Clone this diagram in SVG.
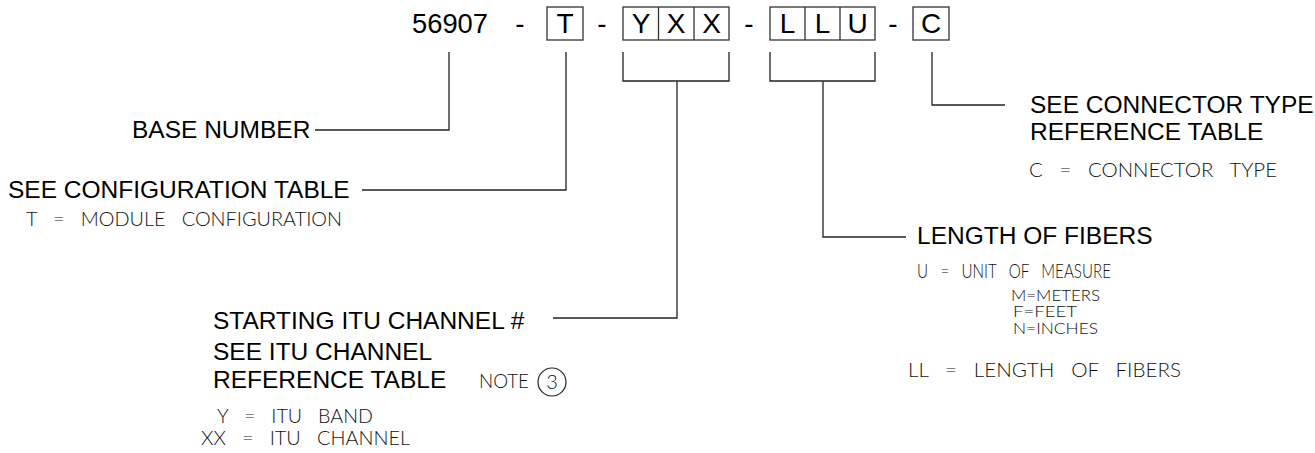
<svg xmlns="http://www.w3.org/2000/svg" width="1315" height="453" viewBox="0 0 1315 453">
<style>
.big{font-family:"Liberation Sans",Arial,sans-serif;font-size:28px;fill:#000}
.lbl{font-family:"Liberation Sans",Arial,sans-serif;font-size:24.5px;fill:#000}
.thin{font-family:Lato,"Liberation Sans",Arial,sans-serif;font-weight:300;font-size:20px;fill:#111;white-space:pre}
.small{font-family:Lato,"Liberation Sans",Arial,sans-serif;font-weight:300;font-size:15px;fill:#111}
.box{fill:none;stroke:#333;stroke-width:1.3}
.ln{fill:none;stroke:#222;stroke-width:1.3}
</style>
<rect width="1315" height="453" fill="#fff"/>
<g id="partnumber">
<text class="big" x="412" y="33" textLength="76" lengthAdjust="spacingAndGlyphs">56907</text>
<text class="big" x="520" y="33" text-anchor="middle">-</text>
<rect class="box" x="547" y="7" width="36" height="33"/>
<text class="big" x="565" y="33" text-anchor="middle">T</text>
<text class="big" x="602" y="33" text-anchor="middle">-</text>
<rect class="box" x="623" y="7" width="106" height="33"/>
<line class="box" x1="658.5" y1="7" x2="658.5" y2="40"/>
<line class="box" x1="694" y1="7" x2="694" y2="40"/>
<text class="big" x="641" y="33" text-anchor="middle">Y</text>
<text class="big" x="676" y="33" text-anchor="middle">X</text>
<text class="big" x="711.5" y="33" text-anchor="middle">X</text>
<text class="big" x="749" y="33" text-anchor="middle">-</text>
<rect class="box" x="770" y="7" width="105" height="33"/>
<line class="box" x1="805" y1="7" x2="805" y2="40"/>
<line class="box" x1="840" y1="7" x2="840" y2="40"/>
<text class="big" x="787.5" y="33" text-anchor="middle">L</text>
<text class="big" x="822.5" y="33" text-anchor="middle">L</text>
<text class="big" x="857.5" y="33" text-anchor="middle">U</text>
<text class="big" x="893" y="33" text-anchor="middle">-</text>
<rect class="box" x="913" y="7" width="36" height="33"/>
<text class="big" x="931" y="33" text-anchor="middle">C</text>
</g>
<g id="connectors">
<polyline class="ln" points="449,52 449,130 315,130"/>
<polyline class="ln" points="566,52 566,190 362,190"/>
<polyline class="ln" points="623,52 623,81 729,81 729,52"/>
<polyline class="ln" points="677,81 677,318 553,318"/>
<polyline class="ln" points="770,52 770,81 875,81 875,52"/>
<polyline class="ln" points="823,81 823,237 906,237"/>
<polyline class="ln" points="932,52 932,105 1005,105"/>
</g>
<g id="base-number">
<text class="lbl" x="132" y="138">BASE NUMBER</text>
</g>
<g id="configuration">
<text class="lbl" x="8" y="198">SEE CONFIGURATION TABLE</text>
<text class="thin" x="26" y="226" textLength="316" lengthAdjust="spacingAndGlyphs">T   =   MODULE   CONFIGURATION</text>
</g>
<g id="itu-channel">
<text class="lbl" x="213" y="329">STARTING ITU CHANNEL #</text>
<text class="lbl" x="213" y="360">SEE ITU CHANNEL</text>
<text class="lbl" x="213" y="388">REFERENCE TABLE</text>
<text class="thin" x="479" y="388" font-size="18" textLength="50" lengthAdjust="spacingAndGlyphs">NOTE</text>
<circle cx="552" cy="382" r="14" fill="none" stroke="#222" stroke-width="1.2"/>
<text class="thin" x="552" y="389" text-anchor="middle">3</text>
<text class="thin" x="217" y="423" textLength="156" lengthAdjust="spacingAndGlyphs">Y   =   ITU   BAND</text>
<text class="thin" x="201" y="445" textLength="209" lengthAdjust="spacingAndGlyphs">XX   =   ITU   CHANNEL</text>
</g>
<g id="connector-type">
<text class="lbl" x="1030" y="113">SEE CONNECTOR TYPE</text>
<text class="lbl" x="1030" y="140">REFERENCE TABLE</text>
<text class="thin" x="1029" y="177" textLength="248" lengthAdjust="spacingAndGlyphs">C   =   CONNECTOR   TYPE</text>
</g>
<g id="fiber-length">
<text class="lbl" x="917" y="244">LENGTH OF FIBERS</text>
<text class="thin" x="917" y="278" textLength="194" lengthAdjust="spacingAndGlyphs">U   =   UNIT   OF   MEASURE</text>
<text class="small" x="1011" y="301" textLength="89" lengthAdjust="spacingAndGlyphs">M=METERS</text>
<text class="small" x="1013" y="317" textLength="64" lengthAdjust="spacingAndGlyphs">F=FEET</text>
<text class="small" x="1013" y="334" textLength="85" lengthAdjust="spacingAndGlyphs">N=INCHES</text>
<text class="thin" x="908" y="377" textLength="273" lengthAdjust="spacingAndGlyphs">LL   =   LENGTH   OF   FIBERS</text>
</g>
</svg>
